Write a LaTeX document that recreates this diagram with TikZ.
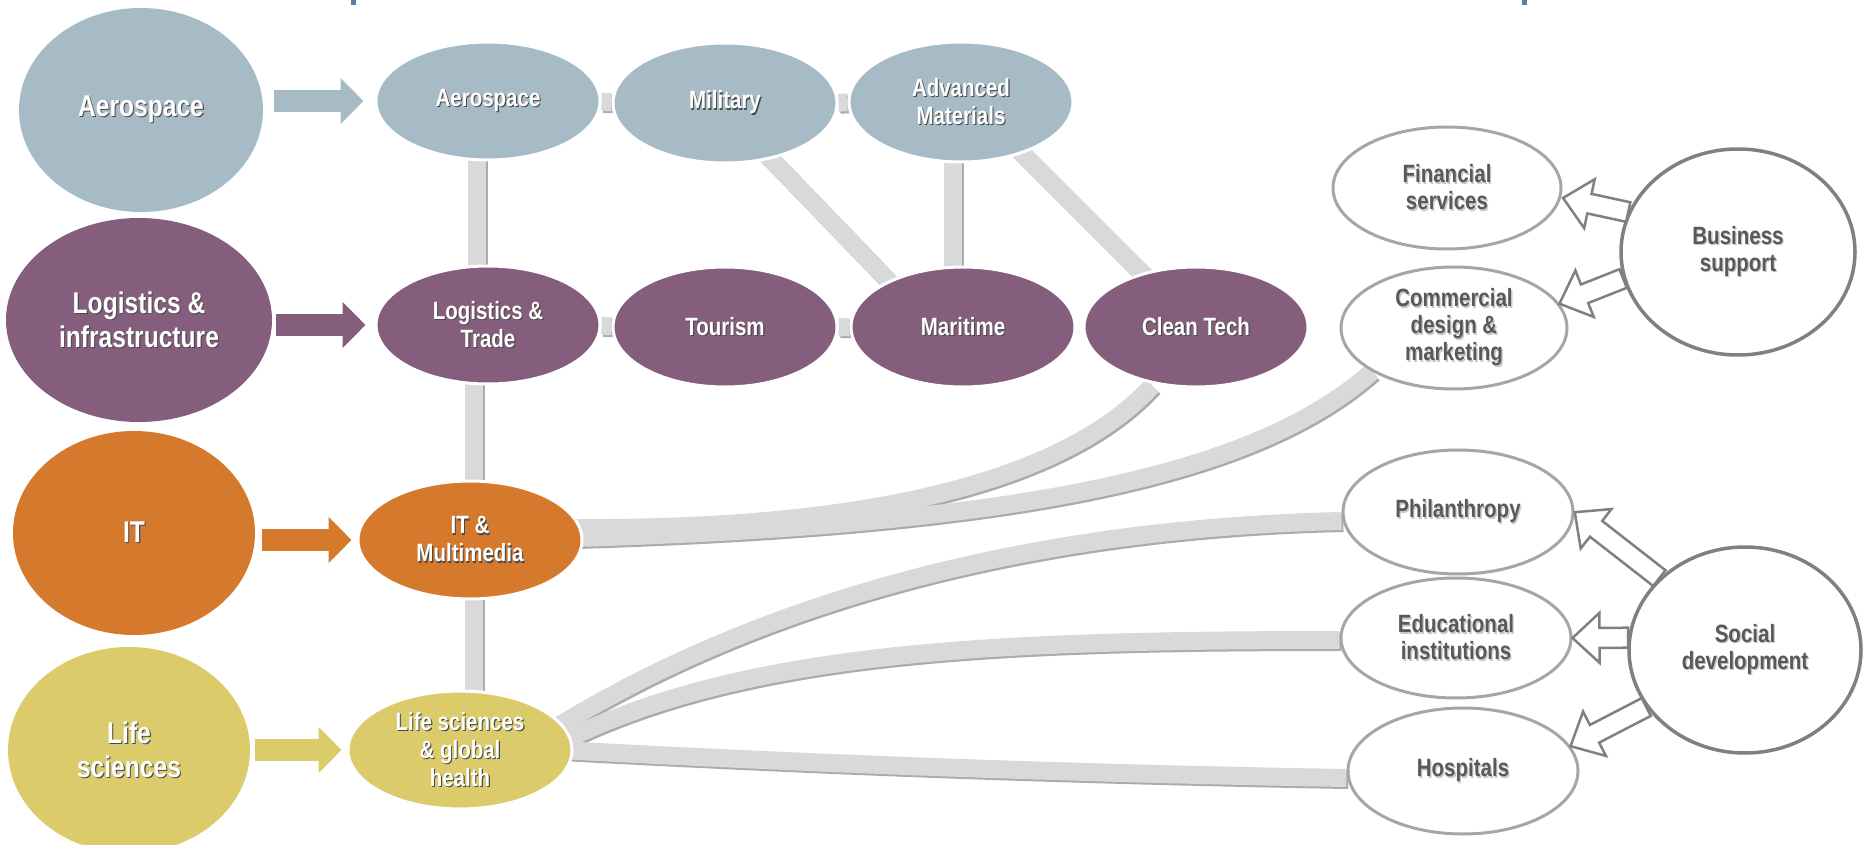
\documentclass[tikz,border=0pt]{standalone}
\usepackage{fontspec}
\newfontfamily\nfont[FakeStretch=0.82]{Liberation Sans}
\usetikzlibrary{shapes.geometric,arrows.meta,backgrounds,calc}
\definecolor{cblue}{HTML}{A7BBC6}
\definecolor{cpurp}{HTML}{845E7C}
\definecolor{corange}{HTML}{D5792C}
\definecolor{cyellow}{HTML}{DCCB6A}
\definecolor{cconn}{HTML}{D9D9D9}
\definecolor{cshad}{HTML}{ABABAB}
\definecolor{ctext}{HTML}{595959}
\definecolor{cring}{HTML}{A6A6A6}
\definecolor{cringd}{HTML}{808080}
\definecolor{ctitle}{HTML}{5B7FA0}
\definecolor{tshdark}{HTML}{4A4A4A}
\definecolor{tshlight}{HTML}{C8C8C8}
\newcommand{\shw}[1]{\leavevmode\rlap{\kern1.1pt\raisebox{-1.1pt}{\textcolor{tshdark}{#1}}}#1}
\newcommand{\shg}[1]{\leavevmode\rlap{\kern1.3pt\raisebox{-1.3pt}{\textcolor{tshlight}{#1}}}#1}
\newcommand{\oarrow}[2]{%
  \path let \p1=(#1), \p2=(#2) in \pgfextra{%
    \pgfmathsetmacro\oaang{atan2(\y2-\y1,\x2-\x1)}%
    \pgfmathsetmacro\oalen{veclen(\x2-\x1,\y2-\y1)}%
    \xdef\oaA{\oaang}\xdef\oaL{\oalen}\xdef\oaX{\x1}\xdef\oaY{\y1}};
  \draw[oarr, shift={(\oaX,\oaY)}, rotate=\oaA]
    (0pt,-10pt) -- ({\oaL pt-27pt},-10pt) -- ({\oaL pt-27pt},-25pt) -- (\oaL pt,0pt)
    -- ({\oaL pt-27pt},25pt) -- ({\oaL pt-27pt},10pt) -- (0pt,10pt) -- cycle;
}
\begin{document}
\begin{tikzpicture}[x=1pt,y=-1pt,
  every node/.style={inner sep=0pt, align=center},
  big/.style={ellipse, text=white, font=\nfont\bfseries\fontsize{30}{34}\selectfont},
  sml/.style={ellipse, draw=white, line width=3pt, text=white, minimum width=224pt, minimum height=118pt, font=\nfont\bfseries\fontsize{25}{28}\selectfont},
  wht/.style={ellipse, draw=cring, line width=3pt, fill=white, text=ctext, minimum width=228pt, minimum height=122pt, font=\nfont\bfseries\fontsize{25}{27}\selectfont},
  hub/.style={wht, draw=cringd, line width=3.5pt, minimum width=234pt, minimum height=206pt},
  conn/.style={line width=18pt, draw=cconn, preaction={draw=cshad, line width=18pt, transform canvas={shift={(1.8pt,-2pt)}}}},
  barrow/.style={line width=22pt, -{Triangle[length=23pt,width=45pt]}},
  oarr/.style={draw=cringd, line width=2.5pt, fill=white, line join=miter},
]
\useasboundingbox (0,0) rectangle (1864,845);
% title fragments
\fill[ctitle] (351,0) rectangle (356,5);
\fill[ctitle] (1522,0) rectangle (1527,5);

% big nodes
\node[big, fill=cblue, minimum width=244pt, minimum height=204pt] (bAero) at (141,110) {\shw{Aerospace}};
\node[big, fill=cpurp, minimum width=266pt, minimum height=204pt] (bLog) at (139,320) {\shw{Logistics \&}\\\shw{infrastructure}};
\node[big, fill=corange, minimum width=242pt, minimum height=204pt] (bIT) at (134,533) {\shw{IT}};
\node[big, fill=cyellow, minimum width=242pt, minimum height=206pt] (bLife) at (129,750) {\shw{Life}\\\shw{sciences}};

% small nodes
\node[sml, fill=cblue] (aero) at (488,101) {\shw{Aerospace}};
\node[sml, fill=cblue, minimum height=120pt] (mil) at (725,103) {\shw{Military}};
\node[sml, fill=cblue, minimum height=120pt] (am) at (961,102) {\shw{Advanced}\\\shw{Materials}};
\node[sml, fill=cpurp] (log) at (488,325) {\shw{Logistics \&}\\\shw{Trade}};
\node[sml, fill=cpurp, minimum height=120pt] (tour) at (725,327) {\shw{Tourism}};
\node[sml, fill=cpurp, minimum height=120pt] (mar) at (963,327) {\shw{Maritime}};
\node[sml, fill=cpurp, minimum height=120pt] (ct) at (1196,327) {\shw{Clean Tech}};
\node[sml, fill=corange] (itm) at (470,540) {\shw{IT \&}\\\shw{Multimedia}};
\node[sml, fill=cyellow] (life) at (460,750) {\shw{Life sciences}\\\shw{\& global}\\\shw{health}};

% right nodes
\node[wht] (fin) at (1447,188) {\shg{Financial}\\\shg{services}};
\node[wht, minimum width=226pt] (cdm) at (1454,328) {\shg{Commercial}\\\shg{design \&}\\\shg{marketing}};
\node[hub] (bus) at (1738,252) {\shg{Business}\\\shg{support}};
\node[wht, minimum width=230pt, minimum height=124pt] (phil) at (1458,512) {\shg{Philanthropy}};
\node[wht, minimum width=230pt, minimum height=120pt] (edu) at (1456,638) {\shg{Educational}\\\shg{institutions}};
\node[wht, minimum width=230pt, minimum height=126pt] (hosp) at (1463,771) {\shg{Hospitals}};
\node[hub, minimum width=232pt] (soc) at (1745,650) {\shg{Social}\\\shg{development}};

% connectors
\begin{scope}[on background layer]
\draw[conn] (aero) -- (mil) -- (am);
\draw[conn] (log) -- (tour) -- (mar);
\draw[conn] ([xshift=-11pt]aero.center) -- ([xshift=-11pt]log.center);
\coordinate (vx) at ([xshift=-14pt]log.center);
\draw[conn] (vx) -- (vx |- life.center);
\draw[conn] ([xshift=-8pt]mil.center) -- ([xshift=-30pt]mar.center);
\coordinate (vy) at ([xshift=-8pt]am.center);
\draw[conn] (vy) -- (vy |- mar.center);
\draw[conn] ([xshift=10pt]am.center) -- (ct.center);
\draw[conn] ([xshift=-10pt]ct.240) .. controls (1075,470) and (900,530) .. ([xshift=-8pt,yshift=12pt]itm.east);
\draw[conn] (cdm.208) .. controls (1250,480) and (1000,525) .. ([xshift=-8pt,yshift=2pt]itm.east);
\draw[conn] ([yshift=-9pt]phil.west) .. controls (950,530) and (700,640) .. ([xshift=100pt,yshift=25pt]life.center);
\draw[conn] ([yshift=-2pt]edu.west) .. controls (1000,640) and (750,650) .. ([xshift=105pt,yshift=10pt]life.center);
\draw[conn] ([yshift=-7pt]hosp.west) .. controls (1000,772) and (750,760) .. ([xshift=100pt]life.center);
\end{scope}

% block arrows
\draw[barrow, draw=cblue, fill=cblue, shorten <=11pt, shorten >=11pt] (bAero.east |- aero.west) -- (aero.west);
\draw[barrow, draw=cpurp, fill=cpurp, shorten <=4pt, shorten >=9pt] (bLog.east |- log.west) -- (log.west);
\draw[barrow, draw=corange, fill=corange, shorten <=7pt, shorten >=5pt] (bIT.east |- itm.west) -- (itm.west);
\draw[barrow, draw=cyellow, fill=cyellow, shorten <=5pt, shorten >=5pt] (bLife.east |- life.west) -- (life.west);

% outline arrows
\oarrow{bus.160}{[xshift=2pt]fin.-5}
\oarrow{bus.193}{cdm.13}
\oarrow{soc.140}{phil.east}
\oarrow{soc.174}{edu.east}
\oarrow{soc.210}{hosp.13}
\end{tikzpicture}
\end{document}
